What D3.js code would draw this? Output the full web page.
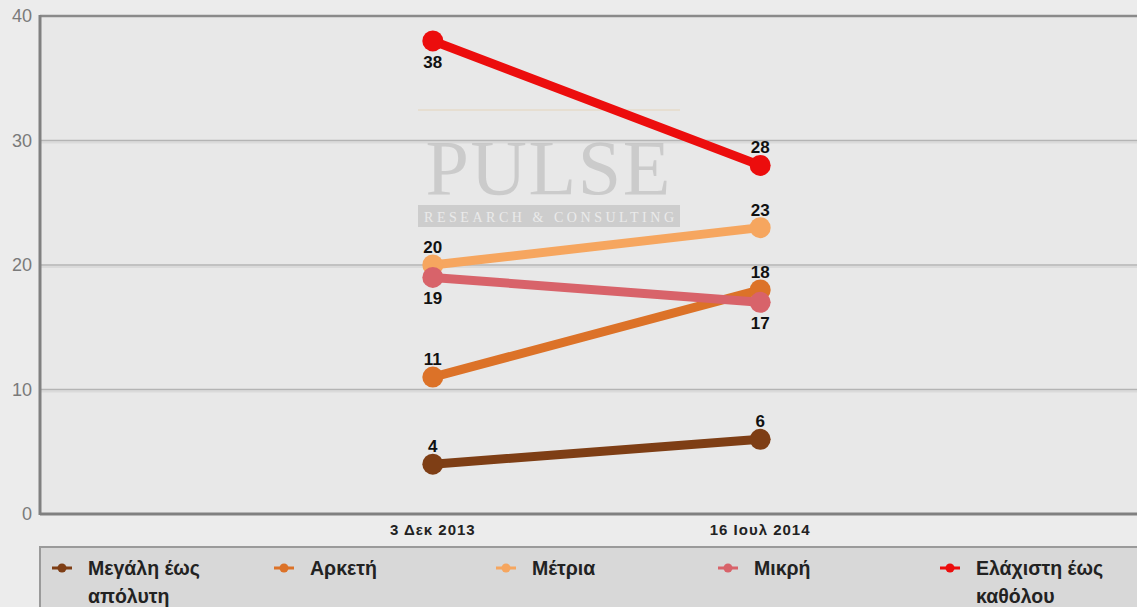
<!DOCTYPE html>
<html>
<head>
<meta charset="utf-8">
<script src="https://cdnjs.cloudflare.com/ajax/libs/d3/7.8.5/d3.min.js"></script>
<style>
  html, body { margin: 0; padding: 0; background: #ececec; }
  svg { display: block; font-family: "Liberation Sans", Arial, sans-serif; }
</style>
</head>
<body>
<div id="chart"></div>
<script>
// survey dates and tick labels
const dates = [new Date(2013, 11, 3), new Date(2014, 6, 16)];
const dateLabels = ['3 Δεκ 2013', '16 Ιουλ 2014'];
const yTicks = [0, 10, 20, 30, 40];

// series names (legend wraps onto two lines)
const seriesNames = [
    ['Μεγάλη έως', 'απόλυτη'],
    ['Αρκετή'],
    ['Μέτρια'],
    ['Μικρή'],
    ['Ελάχιστη έως', 'καθόλου']
];
const seriesColors = ['#7e3e15', '#dc7228', '#f6a65f', '#d8636a', '#ec0d0d'];
const seriesValues = [
    [4, 6],
    [11, 18],
    [20, 23],
    [19, 17],
    [38, 28]
];
// label above (-1) or below (1) the point
const labelSide = [
    [-1, -1],
    [-1, -1],
    [-1, -1],
    [1, 1],
    [1, -1]
];

const width = 1137;
const height = 607;
const margin = { top: 16, right: 0, bottom: 93, left: 40 };

const svg = d3.select('#chart').append('svg')
    .attr('width', width)
    .attr('height', height);

const x = d3.scaleTime()
    .domain([new Date(2013, 2, 8), new Date(2015, 3, 1)])
    .range([margin.left, width - margin.right]);
const y = d3.scaleLinear()
    .domain([0, 40])
    .range([height - margin.bottom, margin.top]);

// plot background
svg.append('rect')
    .attr('x', margin.left).attr('y', margin.top)
    .attr('width', width - margin.left - margin.right)
    .attr('height', y(0) - margin.top)
    .attr('fill', '#e8e8e8');

// grid lines with a soft shadow
const grid = svg.append('g');
grid.selectAll('line.shadow')
    .data(yTicks.filter(d => d > 0 && d < 40))
    .join('line')
    .attr('class', 'shadow')
    .attr('x1', margin.left).attr('x2', width)
    .attr('y1', d => y(d) + 2).attr('y2', d => y(d) + 2)
    .attr('stroke', '#dadada').attr('stroke-width', 2);
grid.selectAll('line.main')
    .data(yTicks.filter(d => d > 0 && d < 40))
    .join('line')
    .attr('class', 'main')
    .attr('x1', margin.left).attr('x2', width)
    .attr('y1', d => y(d)).attr('y2', d => y(d))
    .attr('stroke', '#b4b4b4').attr('stroke-width', 1.5);

// top border
svg.append('line')
    .attr('x1', margin.left).attr('x2', width)
    .attr('y1', y(40)).attr('y2', y(40))
    .attr('stroke', '#8a8a8a').attr('stroke-width', 2.5);

// y axis labels
svg.append('g')
    .selectAll('text')
    .data(yTicks)
    .join('text')
    .attr('x', 32)
    .attr('y', d => y(d) + 6)
    .attr('text-anchor', 'end')
    .attr('fill', '#7a7a7a')
    .attr('font-size', 18)
    .text(d => d);

// axis lines
svg.append('line')
    .attr('x1', margin.left).attr('x2', margin.left)
    .attr('y1', y(40) - 1).attr('y2', y(0) + 1)
    .attr('stroke', '#808080').attr('stroke-width', 3);
svg.append('line')
    .attr('x1', margin.left).attr('x2', width)
    .attr('y1', y(0)).attr('y2', y(0))
    .attr('stroke', '#808080').attr('stroke-width', 3);

// x axis labels
svg.append('g')
    .selectAll('text')
    .data(dates)
    .join('text')
    .attr('x', d => x(d))
    .attr('y', y(0) + 21)
    .attr('text-anchor', 'middle')
    .attr('font-size', 15)
    .attr('font-weight', 'bold')
    .attr('letter-spacing', 1)
    .attr('fill', '#222')
    .text((d, i) => dateLabels[i]);

// watermark
const wm = svg.append('g').attr('opacity', 0.55);
wm.append('line')
    .attr('x1', 418).attr('x2', 680).attr('y1', 110).attr('y2', 110)
    .attr('stroke', '#e6d6c0').attr('stroke-width', 2);
wm.append('text')
    .attr('x', 548).attr('y', 194)
    .attr('text-anchor', 'middle')
    .attr('font-family', '"Liberation Serif", serif')
    .attr('font-size', 78)
    .attr('textLength', 245)
    .attr('fill', '#b4b4b4')
    .text('PULSE');
wm.append('rect')
    .attr('x', 418).attr('y', 205).attr('width', 262).attr('height', 22)
    .attr('fill', '#b8b8b8');
wm.append('text')
    .attr('x', 549).attr('y', 222)
    .attr('text-anchor', 'middle')
    .attr('font-family', '"Liberation Serif", serif')
    .attr('font-size', 14)
    .attr('textLength', 250)
    .attr('fill', '#ededed')
    .text('RESEARCH & CONSULTING');

// series lines and points
const line = d3.line()
    .x((d, i) => x(dates[i]))
    .y(d => y(d));

const series = svg.append('g')
    .selectAll('g')
    .data(seriesValues)
    .join('g');

series.append('path')
    .attr('d', d => line(d))
    .attr('fill', 'none')
    .attr('stroke', (d, i) => seriesColors[i])
    .attr('stroke-width', 9)
    .attr('stroke-linecap', 'round');

series.each(function (vals, si) {
    const g = d3.select(this);
    g.selectAll('circle')
        .data(vals)
        .join('circle')
        .attr('cx', (d, i) => x(dates[i]))
        .attr('cy', d => y(d))
        .attr('r', 10.5)
        .attr('fill', seriesColors[si]);
});

// value labels on top of everything
series.each(function (vals, si) {
    svg.append('g')
        .selectAll('text')
        .data(vals)
        .join('text')
        .attr('x', (d, i) => x(dates[i]))
        .attr('y', (d, i) => y(d) + (labelSide[si][i] < 0 ? -12 : 27))
        .attr('text-anchor', 'middle')
        .attr('font-size', 17)
        .attr('font-weight', 'bold')
        .attr('fill', '#111')
        .text(d => d);
});

// legend
const legend = svg.append('g');
legend.append('rect')
    .attr('x', margin.left).attr('y', 547)
    .attr('width', width - margin.left + 2).attr('height', 70)
    .attr('fill', '#d8d8d8')
    .attr('stroke', '#9a9a9a').attr('stroke-width', 2);

const item = legend.selectAll('g')
    .data(seriesNames)
    .join('g')
    .attr('transform', (d, i) => `translate(${margin.left + 222 * i},0)`);

item.append('line')
    .attr('x1', 12).attr('x2', 32).attr('y1', 568).attr('y2', 568)
    .attr('stroke', (d, i) => seriesColors[i]).attr('stroke-width', 3);
item.append('circle')
    .attr('cx', 22).attr('cy', 568).attr('r', 4.5)
    .attr('fill', (d, i) => seriesColors[i]);
item.each(function (lines) {
    d3.select(this).selectAll('text')
        .data(lines)
        .join('text')
        .attr('x', 48)
        .attr('y', (d, j) => 575 + j * 28)
        .attr('font-size', 19.5)
        .attr('font-weight', 'bold')
        .attr('fill', '#222')
        .text(d => d);
});
</script>
</body>
</html>
